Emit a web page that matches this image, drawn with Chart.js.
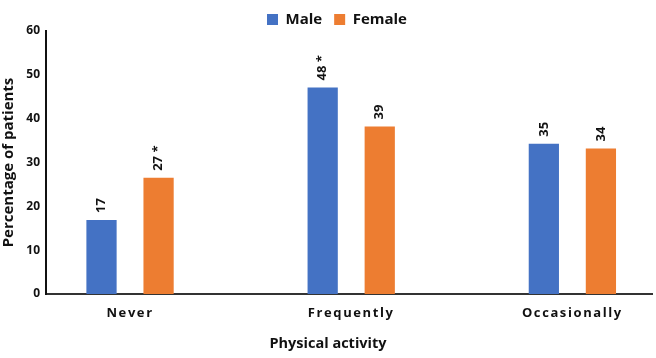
<!DOCTYPE html>
<html>
<head>
<meta charset="utf-8">
<script src="https://cdn.jsdelivr.net/npm/chart.js@4/dist/chart.umd.min.js"></script>
<style>
  html, body { margin: 0; padding: 0; background: #fff; }
  #wrap { width: 656px; height: 358px; }
</style>
</head>
<body>
<div id="wrap"><canvas id="chart"></canvas></div>
<script>
// chart data
const categories = ['Never', 'Frequently', 'Occasionally'];
const maleValues = [16.9, 47.1, 34.3];
const femaleValues = [26.5, 38.2, 33.2];
const maleLabels = ['17', '48 *', '35'];
const femaleLabels = ['27 *', '39', '34'];
const yTicks = [0, 10, 20, 30, 40, 50, 60];

const FONT = "'Open Sans', 'Noto Sans', sans-serif";

// draws the rotated value labels above each bar
const barLabels = {
  id: 'barLabels',
  afterDatasetsDraw(chart) {
    const ctx = chart.ctx;
    chart.data.datasets.forEach((ds, i) => {
      chart.getDatasetMeta(i).data.forEach((bar, j) => {
        ctx.save();
        ctx.translate(bar.x, bar.y - 7);
        ctx.rotate(-Math.PI / 2);
        ctx.font = "bold 13px " + FONT;
        ctx.fillStyle = '#111';
        ctx.textAlign = 'left';
        ctx.textBaseline = 'middle';
        ctx.fillText(ds.valueLabels[j], 0, 0);
        ctx.restore();
      });
    });
  }
};

// legend height fixed, legend nudged right, spaced-out category labels,
// x title centred on the whole picture like the original
const tweaks = {
  id: 'tweaks',
  beforeInit(chart) {
    const fit = chart.legend.fit;
    chart.legend.fit = function () {
      fit.bind(chart.legend)();
      this.height = 31;
    };
  },
  afterLayout(chart) {
    chart.legend.left += 11;
    chart.legend.right += 11;
    const xs = chart.scales.x;
    if (!xs._patched) {
      const origLabels = xs.drawLabels;
      xs.drawLabels = function (area) {
        const c = this.ctx;
        c.save();
        c.letterSpacing = '1.6px';
        origLabels.call(this, area);
        c.restore();
      };
      const origTitle = xs.drawTitle;
      xs.drawTitle = function () {
        const c = this.ctx;
        c.save();
        c.translate(chart.width / 2 - (this.left + this.right) / 2, 0);
        origTitle.call(this);
        c.restore();
      };
      xs._patched = true;
    }
  }
};

new Chart(document.getElementById('chart'), {
  type: 'bar',
  data: {
    datasets: [
      {
        label: 'Male',
        data: maleValues.map((v, i) => ({ x: i, y: v })),
        valueLabels: maleLabels,
        backgroundColor: '#4472C4'
      },
      {
        label: 'Female',
        data: femaleValues.map((v, i) => ({ x: i, y: v })),
        valueLabels: femaleLabels,
        backgroundColor: '#ED7D31'
      }
    ]
  },
  options: {
    responsive: true,
    maintainAspectRatio: false,
    animation: false,
    layout: { padding: { left: 0, right: 4, top: 0, bottom: 0 } },
    datasets: { bar: { categoryPercentage: 0.516, barPercentage: 0.53 } },
    plugins: {
      legend: {
        position: 'top',
        labels: {
          boxWidth: 11,
          boxHeight: 11,
          padding: 12,
          color: '#111',
          font: { family: FONT, size: 15, weight: 'bold' }
        }
      },
      tooltip: { enabled: false }
    },
    scales: {
      x: {
        type: 'linear',
        offset: false,
        min: -0.38,
        max: 2.36,
        afterBuildTicks(scale) {
          scale.ticks = categories.map((c, i) => ({ value: i }));
        },
        afterFit(scale) { scale.height = 64; },
        grid: { display: false, drawTicks: false, offset: false },
        border: { display: true, color: '#333', width: 2 },
        ticks: {
          padding: 11,
          color: '#111',
          font: { family: FONT, size: 13, weight: 'bold' },
          callback: (v) => categories[v] ?? ''
        },
        title: {
          display: true,
          text: 'Physical activity',
          color: '#111',
          padding: { top: 4, bottom: 5 },
          font: { family: FONT, size: 14.5, weight: 'bold' }
        }
      },
      y: {
        min: 0,
        max: 60,
        afterBuildTicks(scale) {
          scale.ticks = yTicks.map(v => ({ value: v }));
        },
        afterFit(scale) { scale.width = 46; },
        grid: { display: false, drawTicks: false },
        border: { display: true, color: '#111', width: 2 },
        ticks: {
          padding: 6,
          color: '#111',
          font: { family: FONT, size: 12, weight: 'bold' }
        },
        title: {
          display: true,
          text: 'Percentage of patients',
          color: '#111',
          padding: { top: 0, bottom: 2 },
          font: { family: FONT, size: 15, weight: 'bold' }
        }
      }
    }
  },
  plugins: [barLabels, tweaks]
});
</script>
</body>
</html>
